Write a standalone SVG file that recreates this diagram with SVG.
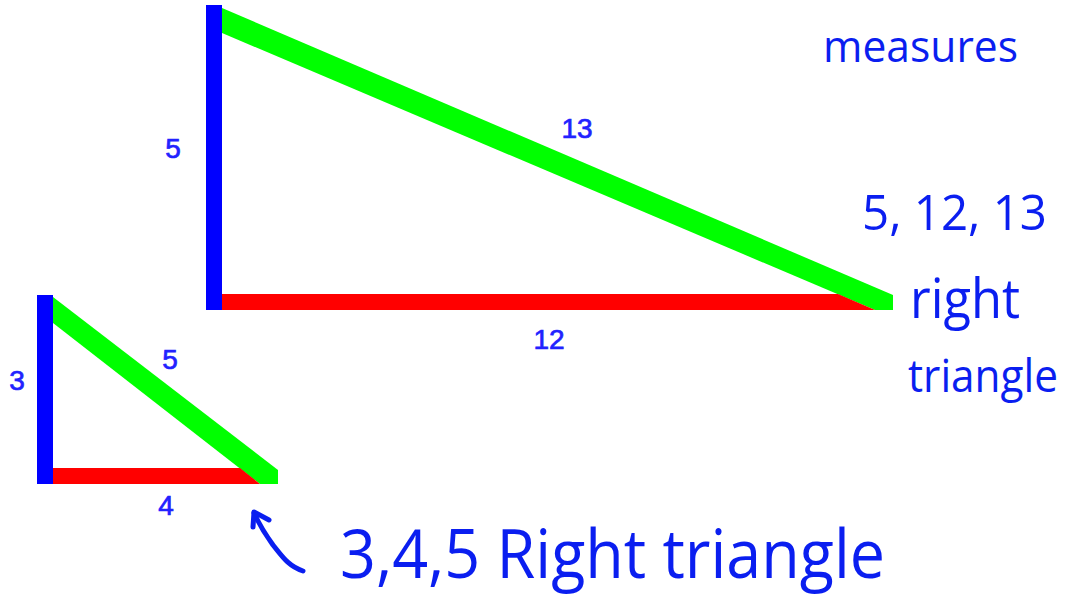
<svg xmlns="http://www.w3.org/2000/svg" width="1076" height="607" viewBox="0 0 1076 607">
<style>
.lbl{font-family:"Liberation Sans",Arial,sans-serif;font-size:28px;fill:#2222ff;stroke:#2222ff;stroke-width:0.7;text-anchor:middle}
.hw{font-family:"Open Sans","Liberation Sans",sans-serif;fill:#0a1ef0}
.leg-a{fill:#0000ff}
.leg-b{fill:#ff0000}
.hyp{fill:#00ff00}
</style>
<rect width="1076" height="607" fill="#ffffff"/>
<g id="big-triangle">
<polygon class="hyp" points="222,8 222,33 875,310 893,310 893,295"/>
<polygon class="leg-b" points="222,294 838,294 875,310 222,310"/>
<rect class="leg-a" x="206" y="5" width="16" height="305"/>
<text class="lbl" x="173" y="158">5</text>
<text class="lbl" x="577" y="138">13</text>
<text class="lbl" x="549" y="349">12</text>
</g>
<g id="small-triangle">
<polygon class="hyp" points="53,297 53,323 260,484 278,484 278,470"/>
<polygon class="leg-b" points="53,468 240,468 260,484 53,484"/>
<rect class="leg-a" x="37" y="295" width="16" height="189"/>
<text class="lbl" x="17" y="390">3</text>
<text class="lbl" x="170" y="369">5</text>
<text class="lbl" x="166" y="515">4</text>
</g>
<g id="annotations">
<text class="hw" x="823" y="62" font-size="44" textLength="195" lengthAdjust="spacingAndGlyphs">measures</text>
<text class="hw" x="862" y="230" font-size="50" textLength="185" lengthAdjust="spacingAndGlyphs">5, 12, 13</text>
<text class="hw" x="910" y="318" font-size="54" textLength="110" lengthAdjust="spacingAndGlyphs">right</text>
<text class="hw" x="908" y="392" font-size="45" textLength="150" lengthAdjust="spacingAndGlyphs">triangle</text>
<text class="hw" x="340" y="578" font-size="68" textLength="545" lengthAdjust="spacingAndGlyphs">3,4,5 Right triangle</text>
</g>
<g id="connectors" fill="none" stroke="#0a1ef0" stroke-width="5" stroke-linecap="round" stroke-linejoin="round">
<path d="M303,571 C288,566 282,556 273,545 C265,534 259,524 254,513"/>
<path d="M253,527 L254,512 L269,520"/>
</g>
</svg>
